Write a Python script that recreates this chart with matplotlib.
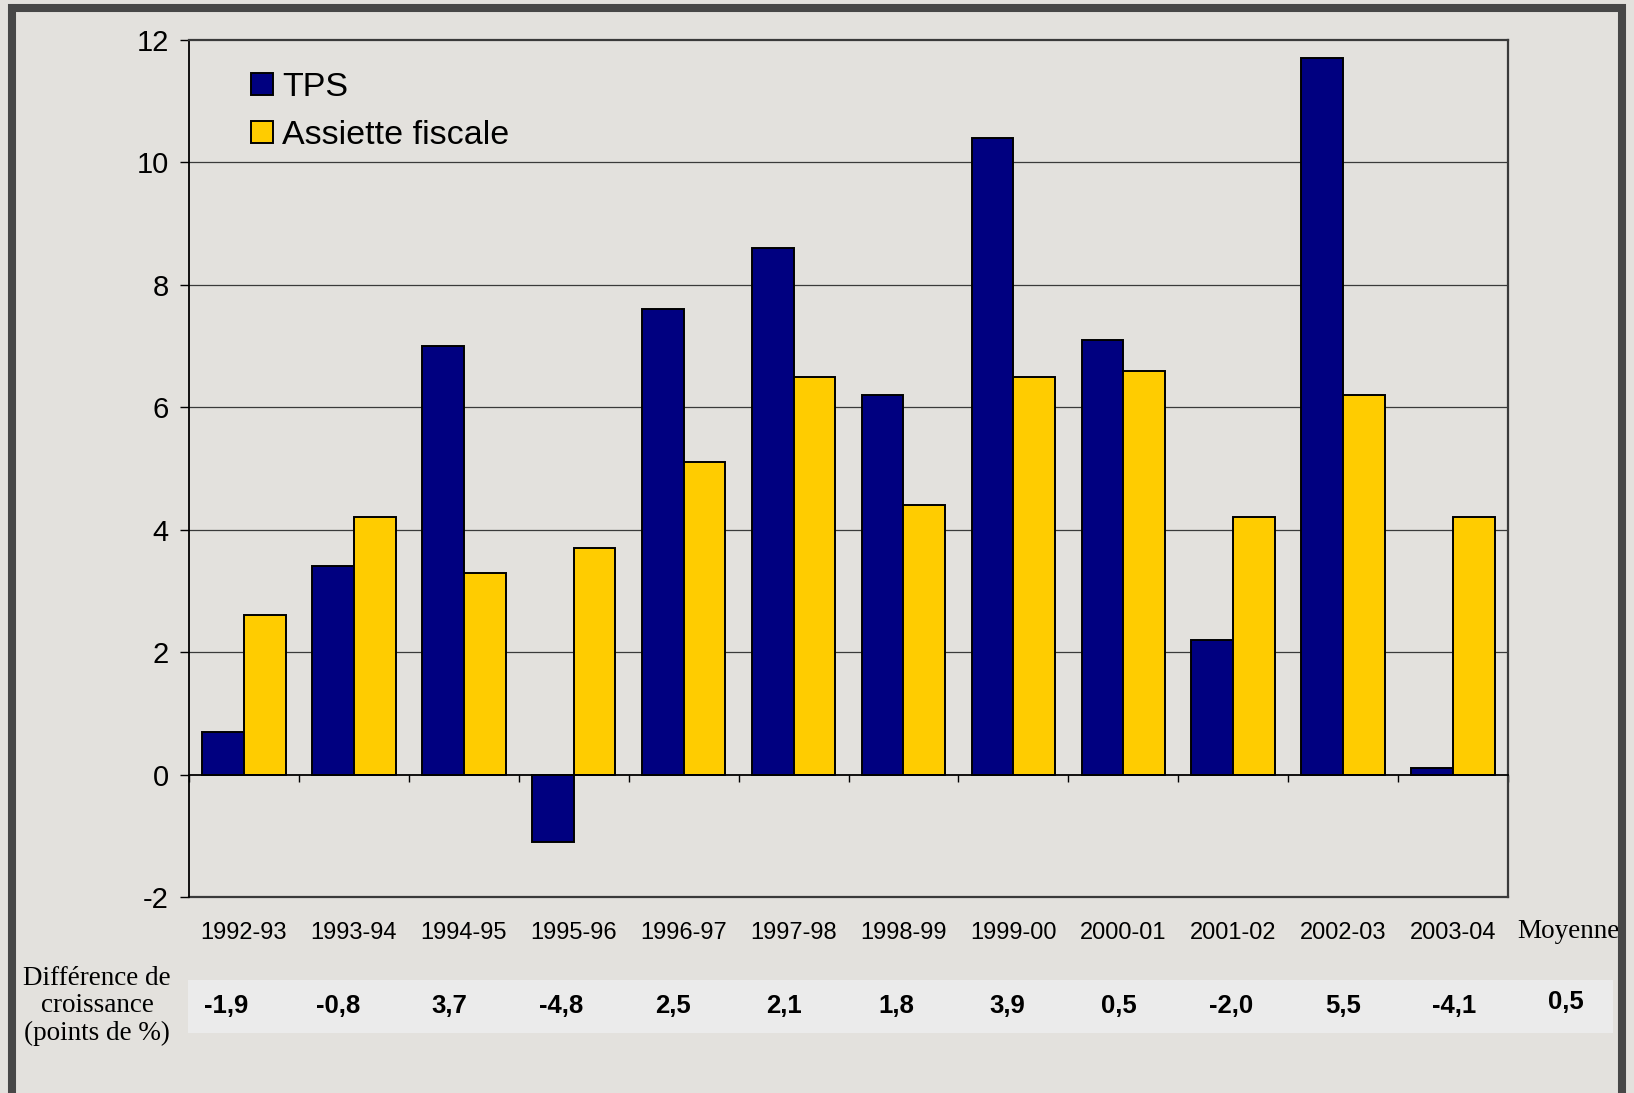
import matplotlib
matplotlib.use("Agg")
import matplotlib.pyplot as plt
import matplotlib.transforms as mtransforms
from matplotlib.patches import Patch, Rectangle
import numpy as np

# data
years = ["1992-93", "1993-94", "1994-95", "1995-96", "1996-97", "1997-98",
         "1998-99", "1999-00", "2000-01", "2001-02", "2002-03", "2003-04"]
tps = [0.7, 3.4, 7.0, -1.1, 7.6, 8.6, 6.2, 10.4, 7.1, 2.2, 11.7, 0.1]
assiette = [2.6, 4.2, 3.3, 3.7, 5.1, 6.5, 4.4, 6.5, 6.6, 4.2, 6.2, 4.2]
ecarts = ["-1,9", "-0,8", "3,7", "-4,8", "2,5", "2,1", "1,8", "3,9",
          "0,5", "-2,0", "5,5", "-4,1"]
moyenne = "0,5"
yticks = [-2, 0, 2, 4, 6, 8, 10, 12]

W, H = 1634, 1093
bg = "#e3e1dd"
sans = "Liberation Sans"
serif = "Liberation Serif"

fig = plt.figure(figsize=(W / 100, H / 100), dpi=100, facecolor=bg)

# outer dark frame
fig.patches.append(Rectangle((12 / W, -10 / H), 1610 / W, (H + 2) / H,
                             transform=fig.transFigure, fill=False,
                             edgecolor="#474747", linewidth=5.8))

ax = fig.add_axes([189 / W, 1 - 897 / H, (1508 - 189) / W, (897 - 40) / H])
ax.set_facecolor("none")

x = np.arange(len(years))
bw = 0.38
ax.bar(x - bw / 2, tps, bw, color="#000080", edgecolor="black",
       linewidth=1.4, zorder=3, label="TPS")
ax.bar(x + bw / 2, assiette, bw, color="#ffcc00", edgecolor="black",
       linewidth=1.4, zorder=3, label="Assiette fiscale")

ax.set_xlim(-0.5, len(years) - 0.5)
ax.set_ylim(-2, 12)
ax.set_yticks(yticks)
ax.set_yticklabels([str(v) for v in yticks], fontsize=21, family=sans)
for v in yticks[2:-1]:
    ax.axhline(v, color="#3a3a3a", linewidth=0.9, zorder=1)

# category axis sits on zero
ax.spines["bottom"].set_position(("data", 0))
ax.spines["bottom"].set_linewidth(1.3)
ax.spines["bottom"].set_zorder(4)
ax.spines["left"].set_linewidth(1.3)
for s in ["top", "right"]:
    ax.spines[s].set_color("#3a3a3a")
    ax.spines[s].set_linewidth(1.6)
ax.axhline(-2, color="#3a3a3a", linewidth=1.6, clip_on=False)

ax.set_xticks(np.arange(len(years) + 1) - 0.5)
ax.set_xticklabels([])
ax.tick_params(axis="x", direction="out", length=5, width=1)
ax.tick_params(axis="y", direction="out", length=6.5, width=1, pad=8)

trans = mtransforms.blended_transform_factory(ax.transData, fig.transFigure)
for i, lab in enumerate(years):
    ax.text(i, 1 - 933 / H, lab, transform=trans, ha="center", va="center",
            fontsize=17, family=sans)
ax.text(12.05, 1 - 932 / H, "Moyenne", transform=trans, ha="center",
        va="center", fontsize=19.5, family=serif, clip_on=False)

# bottom table of growth differences
fig.patches.append(Rectangle((188 / W, 1 - 1033 / H), (1613 - 188) / W, 53 / H,
                             transform=fig.transFigure, facecolor="#ebebeb",
                             edgecolor="none"))
xs = np.linspace(226, 1566, len(ecarts) + 1)
labels = ecarts + [moyenne]
for k, (xp, val) in enumerate(zip(xs, labels)):
    dy = 1002 if k == len(labels) - 1 else 1006
    fig.text(xp / W, 1 - dy / H, val, ha="center", va="center",
             fontsize=18.5, fontweight="bold", family=sans)
fig.text(97 / W, 1 - 1006 / H, "Différence de\ncroissance\n(points de %)",
         ha="center", va="center", fontsize=19.5, family=serif,
         linespacing=1.12, multialignment="center")

handles = [Patch(facecolor="#000080", edgecolor="black", linewidth=1.4),
           Patch(facecolor="#ffcc00", edgecolor="black", linewidth=1.4)]
ax.legend(handles, ["TPS", "Assiette fiscale"], loc="upper left",
          bbox_to_anchor=(251 / W, 1 - 72 / H), bbox_transform=fig.transFigure,
          frameon=False, prop={"family": sans, "size": 24.5},
          handlelength=0.65, handleheight=0.65, handletextpad=0.27,
          labelspacing=0.5, borderpad=0, borderaxespad=0)

fig.savefig("out.png", dpi=100, facecolor=bg)
